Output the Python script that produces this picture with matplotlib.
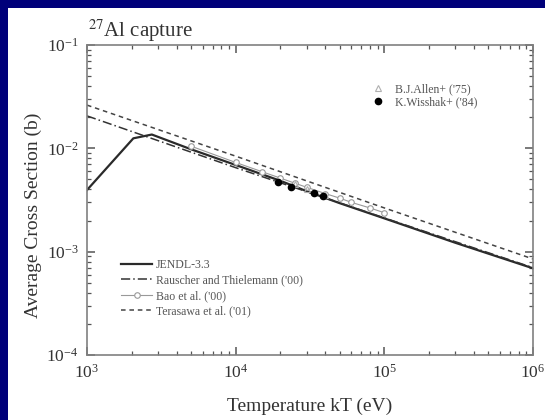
import matplotlib
matplotlib.use("Agg")
import matplotlib.pyplot as plt
from matplotlib.patches import Rectangle
from matplotlib.lines import Line2D
from matplotlib.ticker import LogLocator, NullFormatter

# ---- data ----
jendl_T = [1000, 2050, 2730, 5000, 10000, 20000, 30000, 50000, 100000, 300000, 1000000]
jendl_sigma = [3.95e-3, 1.25e-2, 1.36e-2, 9.8e-3, 6.9e-3, 4.85e-3, 3.85e-3, 2.95e-3, 2.1e-3, 1.22e-3, 6.9e-4]

rauscher_T = [1000, 10000, 100000, 1000000]
rauscher_sigma = [2.06e-2, 6.5e-3, 2.12e-3, 7.0e-4]

bao_T = [5000, 10000, 15000, 20000, 25000, 30000, 40000, 50000, 60000, 80000, 100000]
bao_sigma = [1.05e-2, 7.3e-3, 5.95e-3, 5.15e-3, 4.6e-3, 4.2e-3, 3.65e-3, 3.3e-3, 3.0e-3, 2.65e-3, 2.38e-3]

terasawa_T = [1000, 10000, 100000, 1000000]
terasawa_sigma = [2.62e-2, 8.4e-3, 2.65e-3, 8.5e-4]

allen_T = [25000, 30000, 40000]
allen_sigma = [4.5e-3, 4.0e-3, 3.5e-3]

wisshak_T = [19200, 23600, 33900, 38600]
wisshak_sigma = [4.75e-3, 4.25e-3, 3.72e-3, 3.48e-3]

x_label = "Temperature kT (eV)"
y_label = "Average Cross Section (b)"

plt.rcParams['font.family'] = ['Liberation Serif', 'DejaVu Serif']
plt.rcParams['mathtext.fontset'] = 'stix'

W, H = 545, 420
fig = plt.figure(figsize=(W / 100, H / 100), dpi=100)
fig.patch.set_facecolor('#00007a')
fig.patches.append(Rectangle((8 / W, 0), 1, 1 - 8 / H, transform=fig.transFigure,
                             facecolor='white', edgecolor='none', zorder=-10))

L, R, T, B = 87, 533, 45, 355
ax = fig.add_axes([L / W, 1 - B / H, (R - L) / W, (B - T) / H])
ax.set_zorder(5)
ax.set_facecolor('white')
ax.set_xscale('log')
ax.set_yscale('log')
ax.set_xlim(1e3, 1e6)
ax.set_ylim(1e-4, 1e-1)

ax.plot(jendl_T, jendl_sigma, color='#2a2a2a', lw=1.6, ls='-', label='JENDL-3.3')
ax.plot(rauscher_T, rauscher_sigma, color='#333333', lw=1.1, ls=(0, (6, 2, 1, 2)),
        label='Rauscher and Thielemann (\'00)')
ax.plot(bao_T, bao_sigma, color='#999999', lw=0.8, marker='o', ms=4,
        mfc='white', mec='#999999', mew=0.8, label='Bao et al. (\'00)')
ax.plot(terasawa_T, terasawa_sigma, color='#444444', lw=1.1, ls=(0, (3, 2.5)),
        label='Terasawa et al. (\'01)')
ax.plot(allen_T, allen_sigma, ls='none', marker='^', ms=4.5, mfc='none',
        mec='#b0b0b0', mew=0.8)
ax.plot(wisshak_T, wisshak_sigma, ls='none', marker='o', ms=4.5, color='black')

for sp in ax.spines.values():
    sp.set_color('#808080')
    sp.set_linewidth(1.2)

ax.tick_params(which='both', direction='in', top=True, right=True, colors='#555555',
               labelcolor='#333333', labelsize=12.5, pad=6)
ax.tick_params(which='major', length=6, width=1.1)
ax.tick_params(which='minor', length=3, width=0.9)
ax.xaxis.set_major_locator(LogLocator(base=10, numticks=10))
ax.yaxis.set_major_locator(LogLocator(base=10, numticks=10))
ax.xaxis.set_minor_locator(LogLocator(base=10, subs=range(2, 10), numticks=20))
ax.yaxis.set_minor_locator(LogLocator(base=10, subs=range(2, 10), numticks=20))
ax.xaxis.set_minor_formatter(NullFormatter())
ax.yaxis.set_minor_formatter(NullFormatter())

ax.set_xlabel(x_label, fontsize=14, color='#333333', labelpad=12)
ax.set_ylabel(y_label, fontsize=14, color='#333333')
ax.yaxis.set_label_coords(-0.1, 0.45)

fig.text(88 / W, 1 - 37 / H, r'$^{27}$Al capture', fontsize=15, color='#333333',
         ha='left', va='baseline', zorder=6)

leg1 = ax.legend(loc='upper left', bbox_to_anchor=(0.064, 0.328), frameon=False,
                 fontsize=8.5, handlelength=2.6, handletextpad=0.3, labelspacing=0.28,
                 borderpad=0)
for t in leg1.get_texts():
    t.set_color('#555555')
ax.add_artist(leg1)

h2 = [Line2D([], [], ls='none', marker='^', ms=4.5, mfc='none', mec='#b0b0b0', mew=0.8),
      Line2D([], [], ls='none', marker='o', ms=4.5, color='black')]
leg2 = ax.legend(h2, ['B.J.Allen+ (\'75)', 'K.Wisshak+ (\'84)'], loc='upper left',
                 bbox_to_anchor=(0.624, 0.897), frameon=False, fontsize=8.5,
                 handletextpad=0.8, labelspacing=0.1, borderpad=0, handlelength=1.2)
for t in leg2.get_texts():
    t.set_color('#555555')

fig.savefig('out.png', dpi=100, facecolor=fig.get_facecolor())
